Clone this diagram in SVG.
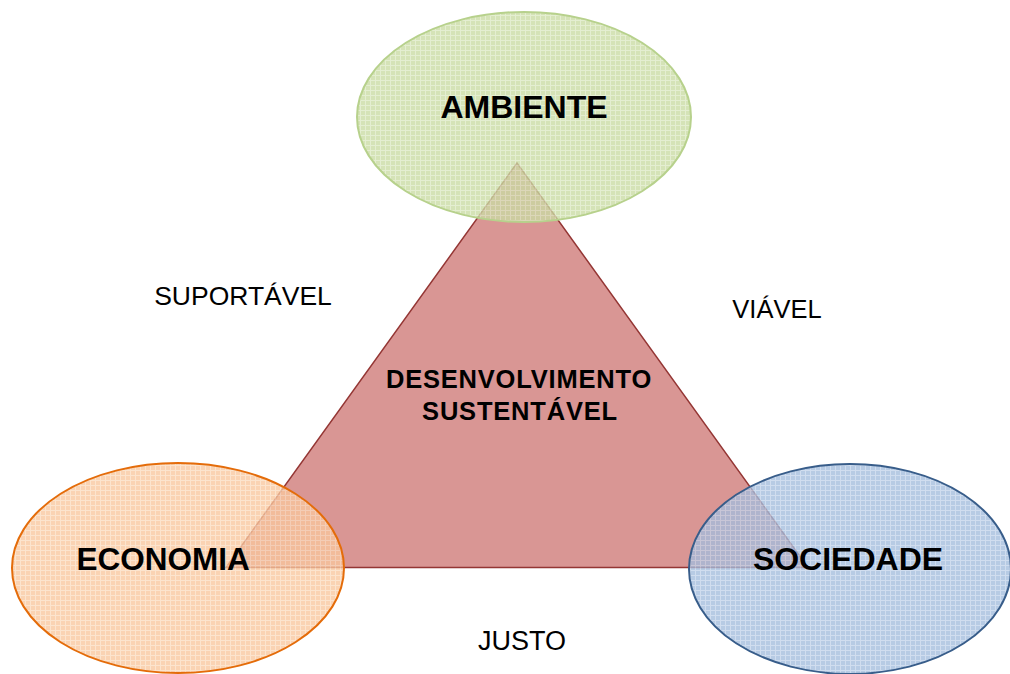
<svg xmlns="http://www.w3.org/2000/svg" width="1010" height="674" viewBox="0 0 1010 674">
<style>
.lbl{font-family:"Liberation Sans",Arial,sans-serif;font-weight:bold;fill:#000;text-anchor:middle}
.side{font-family:"Liberation Sans",Arial,sans-serif;fill:#000;text-anchor:middle}
.ell{stroke-width:2;fill-opacity:0.78}
</style>
<defs>
<pattern id="pg" width="5" height="5" patternUnits="userSpaceOnUse">
<rect width="5" height="5" fill="#C9DBA3"/>
<path d="M0 0.5H5M0.5 0V5" stroke="#DDE9C4" stroke-width="1"/>
</pattern>
<pattern id="po" width="5" height="5" patternUnits="userSpaceOnUse">
<rect width="5" height="5" fill="#F9C79D"/>
<path d="M0 0.5H5M0.5 0V5" stroke="#FBDCC0" stroke-width="1"/>
</pattern>
<pattern id="pb" width="5" height="5" patternUnits="userSpaceOnUse">
<rect width="5" height="5" fill="#A3BDDD"/>
<path d="M0 0.5H5M0.5 0V5" stroke="#C3D4EA" stroke-width="1"/>
</pattern>
</defs>
<rect width="1010" height="674" fill="#fff"/>
<g id="triangle">
<polygon points="517,163 226,567.5 808,567.5" fill="#D99694" stroke="#943634" stroke-width="1.5" stroke-linejoin="miter"/>
</g>
<g id="ambiente">
<ellipse class="ell" cx="524" cy="117" rx="167" ry="105" fill="url(#pg)" stroke="#B7D18C"/>
<text class="lbl" x="524" y="118" font-size="32">AMBIENTE</text>
</g>
<g id="economia">
<ellipse class="ell" cx="178" cy="568" rx="166" ry="105" fill="url(#po)" stroke="#E46C0A"/>
<text class="lbl" x="163" y="570" font-size="31.5">ECONOMIA</text>
</g>
<g id="sociedade">
<ellipse class="ell" cx="850" cy="569" rx="161" ry="105" fill="url(#pb)" stroke="#385D8A"/>
<text class="lbl" x="848" y="570" font-size="32">SOCIEDADE</text>
</g>
<g id="centro">
<text class="lbl" x="519" y="388" font-size="25.5" letter-spacing="0.8">DESENVOLVIMENTO</text>
<text class="lbl" x="520" y="420" font-size="25.5" letter-spacing="0.8">SUSTENTÁVEL</text>
</g>
<g id="labels">
<text class="side" x="243" y="305" font-size="26.5">SUPORTÁVEL</text>
<text class="side" x="777" y="318" font-size="25.5">VIÁVEL</text>
<text class="side" x="522" y="650" font-size="27">JUSTO</text>
</g>
</svg>
